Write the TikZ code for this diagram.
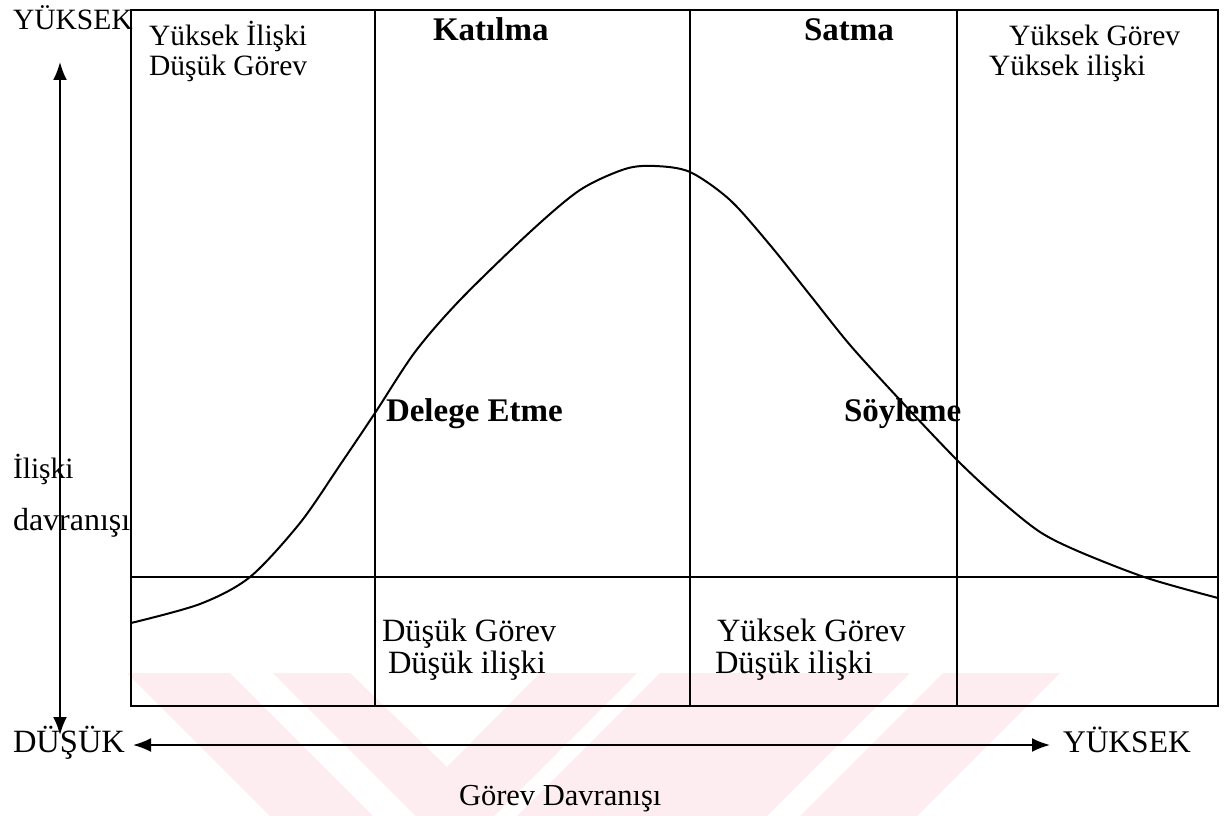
\documentclass[tikz,border=0pt]{standalone}
\usepackage{fontspec}
\setmainfont{Liberation Serif}
\usetikzlibrary{arrows.meta}
\definecolor{wm}{RGB}{253,237,240}
\begin{document}
\begin{tikzpicture}[x=1pt,y=-1pt,line width=2pt,
  lbl/.style={anchor=base west,inner sep=0pt,font=\fontsize{29.5}{30}\selectfont},
  biglbl/.style={anchor=base west,inner sep=0pt,font=\fontsize{32.5}{33}\selectfont},
  blbl/.style={anchor=base west,inner sep=0pt,font=\fontsize{33}{34}\selectfont\bfseries},
  axisarrow/.style={line width=2pt,{Latex[length=18pt,width=14pt]}-{Latex[length=18pt,width=14pt]}},
  gridline/.style={line width=2pt},
  curveline/.style={line width=2pt}]
\useasboundingbox (0,0) rectangle (1224,816);
% watermark
\fill[wm] (127,673) -- (230,673) -- (373,816) -- (270,816) -- cycle;
\fill[wm] (273,673) -- (350,673) -- (447,767) -- (540,673) -- (637,673) -- (494,816) -- (416,816) -- cycle;
\fill[wm] (660,673) -- (910,673) -- (767,816) -- (517,816) -- cycle;
\fill[wm] (943,673) -- (1060,673) -- (917,816) -- (800,816) -- cycle;
% grid
\draw[gridline] (131,10) rectangle (1218,706);
\draw[gridline] (375,10) -- (375,706);
\draw[gridline] (690,10) -- (690,706);
\draw[gridline] (957,10) -- (957,706);
\draw[gridline] (131,577) -- (1218,577);
% curve
\draw[curveline] plot[smooth,tension=0.5] coordinates {
 (131,623) (200,604) (250,577) (300,523) (340,465) (375,413) (415,352)
 (460,300) (530,232) (580,190) (625,169) (655,166) (690,172) (730,200)
 (770,245) (810,295) (850,345) (900,400) (957,460) (1000,500) (1040,532)
 (1080,552) (1147,578) (1218,598)};
% axes
\coordinate (ytop) at (60,62);
\coordinate (ybot) at (60,735);
\coordinate (xleft) at (133,745);
\coordinate (xright) at (1050,745);
\draw[axisarrow] (ybot) -- (ytop);
\draw[axisarrow] (xleft) -- (xright);
% labels
\node[lbl] (yhigh) at (12,30) {YÜKSEK};
\node[biglbl] (ylow) at (12,752) {DÜŞÜK};
\node[lbl,font=\fontsize{31.5}{32}\selectfont] (xhigh) at (1062,752) {YÜKSEK};
\node[lbl] (ilis) at (12,478) {İlişki};
\node[lbl,font=\fontsize{32}{33}\selectfont] (davr) at (12,530) {davranışı};
\node[lbl,font=\fontsize{30.5}{31}\selectfont] (gorev) at (458,805) {Görev Davranışı};
\node[lbl] (c1a) at (148,46) {Yüksek İlişki};
\node[lbl] (c1b) at (148,75) {Düşük Görev};
\node[blbl] (kat) at (432,41) {Katılma};
\node[blbl] (sat) at (803,41) {Satma};
\node[lbl] (c4a) at (1008,46) {Yüksek Görev};
\node[lbl] (c4b) at (988,75) {Yüksek ilişki};
\node[blbl] (del) at (385,421) {Delege Etme};
\node[blbl] (soy) at (843,421) {Söyleme};
\node[biglbl] (b2a) at (381,641) {Düşük Görev};
\node[biglbl] (b2b) at (387,673) {Düşük ilişki};
\node[biglbl] (b3a) at (716,641) {Yüksek Görev};
\node[biglbl] (b3b) at (714,673) {Düşük ilişki};
\end{tikzpicture}
\end{document}
